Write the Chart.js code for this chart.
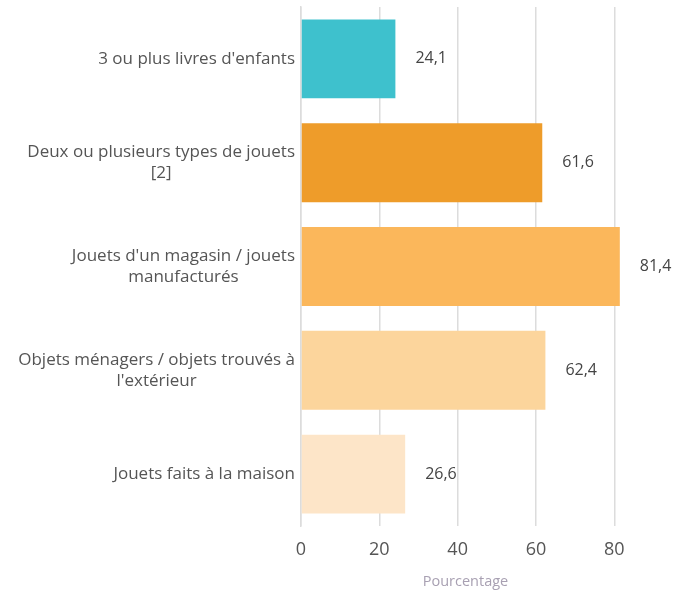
<!DOCTYPE html>
<html>
<head>
<meta charset="utf-8">
<script src="https://cdn.jsdelivr.net/npm/chart.js@4/dist/chart.umd.min.js"></script>
<style>
  html, body { margin: 0; padding: 0; background: #fff; }
  #wrap { width: 673px; height: 594px; position: relative; }
</style>
</head>
<body>
<div id="wrap"><canvas id="chart"></canvas></div>
<script>
"use strict";

// Chart data
const categories = [
  "3 ou plus livres d'enfants",
  ["Deux ou plusieurs types de jouets", "[2]"],
  ["Jouets d'un magasin / jouets", "manufacturés"],
  ["Objets ménagers / objets trouvés à", "l'extérieur"],
  "Jouets faits à la maison"
];
const values = [24.1, 61.6, 81.4, 62.4, 26.6];
const barColors = ["#3ec1cd", "#ee9c2a", "#fbb75b", "#fcd59c", "#fde5c8"];
const tickValues = [0, 20, 40, 60, 80];
const axisTitle = "Pourcentage";

const fontFamily = "'Open Sans', 'Liberation Sans', Arial, sans-serif";

// Draws the value next to each bar, with a French decimal comma,
// and the category labels (lines centred on each other, block right-aligned)
const barText = {
  id: "barText",
  afterDatasetsDraw(chart) {
    const ctx = chart.ctx;
    const meta = chart.getDatasetMeta(0);
    const right = chart.chartArea.left - 6;
    ctx.save();
    ctx.textBaseline = "middle";

    ctx.font = "16px " + fontFamily;
    ctx.fillStyle = "#444";
    ctx.textAlign = "left";
    meta.data.forEach((bar, i) => {
      const txt = values[i].toFixed(1).replace(".", ",");
      ctx.fillText(txt, bar.x + 20, bar.y);
    });

    ctx.font = "17px " + fontFamily;
    ctx.fillStyle = "#555";
    ctx.textAlign = "center";
    const lineH = 21;
    meta.data.forEach((bar, i) => {
      const lines = [].concat(categories[i]);
      const w = Math.max(...lines.map((l) => ctx.measureText(l).width));
      const cx = right - w / 2;
      const y0 = bar.y - ((lines.length - 1) * lineH) / 2;
      lines.forEach((l, j) => ctx.fillText(l, cx, y0 + j * lineH));
    });
    ctx.restore();
  }
};

new Chart(document.getElementById("chart"), {
  type: "bar",
  data: {
    labels: categories,
    datasets: [{
      data: values,
      backgroundColor: barColors,
      borderWidth: 0,
      categoryPercentage: 1,
      barPercentage: 0.76
    }]
  },
  options: {
    indexAxis: "y",
    responsive: true,
    maintainAspectRatio: false,
    animation: false,
    layout: { padding: { top: 7, right: 43, bottom: 3, left: 0 } },
    plugins: {
      legend: { display: false },
      tooltip: { enabled: false }
    },
    scales: {
      x: {
        min: 0,
        max: 84,
        afterBuildTicks: (axis) => {
          axis.ticks = tickValues.map((v) => ({ value: v }));
        },
        grid: { color: "#dcdcdc", lineWidth: 1.5, drawTicks: false },
        border: { display: false },
        ticks: {
          padding: 13,
          color: "#555",
          font: { family: fontFamily, size: 18 }
        },
        title: {
          display: true,
          text: axisTitle,
          color: "#a8a0b2",
          font: { family: fontFamily, size: 14.5 },
          padding: { top: 0, bottom: 0 }
        }
      },
      y: {
        grid: { display: false, drawTicks: false },
        border: { display: true, color: "#dcdcdc", width: 1.5 },
        afterFit: (axis) => { axis.width = 301; },
        ticks: { display: false }
      }
    }
  },
  plugins: [barText]
});
</script>
</body>
</html>
